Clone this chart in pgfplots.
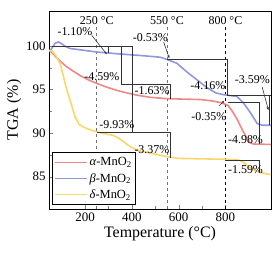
\documentclass[border=0pt]{standalone}
\usepackage{fontspec}
\setmainfont{Liberation Serif}
\usepackage{pgfplots}
\pgfplotsset{compat=1.18}
\usetikzlibrary{arrows.meta}
\definecolor{cred}{RGB}{240,135,135}
\definecolor{cblue}{RGB}{145,150,225}
\definecolor{cyel}{RGB}{250,215,105}
\tikzset{annot/.style={draw=black!80, line width=0.6pt},
  lbl/.style={font=\fontsize{12}{12}\selectfont, inner sep=0pt}}
\begin{document}
\begin{tikzpicture}
\begin{axis}[name=ax, width=222bp, height=198bp, scale only axis,
  xmin=46, xmax=995, ymin=81.3, ymax=104,
  xtick={200,400,600,800}, ytick={85,90,95,100},
  minor x tick num=1, minor y tick num=1,
  xtick pos=bottom, ytick pos=left,
  tick label style={font=\fontsize{13}{13}\selectfont},
  /pgf/number format/assume math mode=true,
  xlabel={Temperature (°C)}, ylabel={TGA (\%)},
  label style={font=\fontsize{16}{16}\selectfont},
  xlabel style={yshift=2bp}, ylabel style={yshift=-2bp},
  axis line style={line width=0.7pt},
  legend style={at={(0.012,0.02)}, anchor=south west, font=\fontsize{12.5}{12.5}\selectfont, draw=black, line width=0.7pt, row sep=0pt, inner sep=2pt, nodes={inner ysep=3pt}},
  legend cell align=left,
  legend image code/.code={\draw[#1] (0bp,0bp) -- (32bp,0bp);},
]
% dashed guide lines
\draw[dashed, black!55, line width=0.6pt] (axis cs:250,81.3) -- (axis cs:250,102.2);
\draw[dashed, black!55, line width=0.6pt] (axis cs:550,81.3) -- (axis cs:550,102.2);
\draw[dashed, black, line width=0.6pt] (axis cs:800,81.3) -- (axis cs:800,102.2);

\addplot[cred, line width=1.6pt] coordinates {
(47,99.5) (60,99.2) (80,98.6) (100,98.1) (122,97.6) (150,97.1) (179,96.6) (215,96.1) (250,95.7) (290,95.3) (336,94.9) (380,94.6) (422,94.35) (480,94.1) (550,93.95) (620,93.9) (693,93.85) (740,93.7) (780,93.5) (810,93.2) (830,92.5) (850,91.6) (870,90.5) (890,89.5) (905,88.9) (920,88.75) (995,88.7)};
\addlegendentry{\textit{α}-MnO\textsubscript{2}}
\addplot[cblue, line width=1.6pt] coordinates {
(47,99.3) (60,99.8) (72,100.3) (86,100.45) (100,100.25) (115,99.95) (136,99.7) (165,99.6) (193,99.5) (250,99.3) (336,99.1) (436,98.9) (522,98.7) (550,98.45) (593,98.0) (636,97.0) (679,96.1) (722,95.2) (760,94.6) (793,94.4) (850,94.2) (879,93.4) (908,92.3) (936,91.1) (958,90.9) (995,90.9)};
\addlegendentry{\textit{β}-MnO\textsubscript{2}}
\addplot[cyel, line width=1.6pt] coordinates {
(47,99.5) (60,99.4) (75,98.9) (93,98.0) (105,96.8) (115,95.7) (125,94.7) (136,93.8) (147,92.8) (157,91.9) (175,91.0) (193,90.7) (220,90.4) (250,90.15) (280,89.95) (320,89.75) (345,89.4) (365,89.0) (385,88.6) (407,88.25) (435,87.95) (465,87.8) (500,87.6) (550,87.3) (600,87.1) (700,87.05) (800,87.0) (860,86.9) (880,86.6) (900,86.1) (920,85.8) (945,85.55) (970,85.35) (995,85.25)};
\addlegendentry{\textit{δ}-MnO\textsubscript{2}}

% annotation boxes
\draw[annot] (axis cs:60,100) -- (axis cs:404,100);
\draw[annot] (axis cs:300,100) -- (axis cs:300,99.15);
\draw[annot] (axis cs:355,100) -- (axis cs:355,95.58) -- (axis cs:565,95.58) -- (axis cs:565,93.95);
\draw[annot] (axis cs:404,100) -- (axis cs:404,90.08);
\draw[annot] (axis cs:250,90.08) -- (axis cs:565,90.08) -- (axis cs:565,87.2);
\draw[annot] (axis cs:550,98.44) -- (axis cs:807,98.44) -- (axis cs:807,94.35);
\draw[annot] (axis cs:807,94.35) -- (axis cs:995,94.35);
\draw[annot] (axis cs:986,94.35) -- (axis cs:986,90.9);
\draw[annot] (axis cs:813,93.59) -- (axis cs:947,93.59) -- (axis cs:947,88.7);
\draw[annot] (axis cs:800,86.91) -- (axis cs:946,86.91) -- (axis cs:946,85.57);
% pointer arrows
\draw[annot, -{Stealth[length=3bp,width=2.5bp]}] (axis cs:229,101.2) -- (axis cs:293,99.05);
\draw[annot, -{Stealth[length=3bp,width=2.5bp]}] (axis cs:536,100.46) -- (axis cs:560,98.6);
\draw[annot, -{Stealth[length=3bp,width=2.5bp]}] (axis cs:957,95.3) -- (axis cs:984,92.64);
\draw[annot, -{Stealth[length=3bp,width=2.5bp]}] (axis cs:772,93.1) -- (axis cs:795,93.7);

% labels
\node[lbl] at (axis cs:250,102.95) {250 °C};
\node[lbl] at (axis cs:550,102.95) {550 °C};
\node[lbl] at (axis cs:800,102.95) {800 °C};
\node[lbl] at (axis cs:157,101.6) {-1.10\%};
\node[lbl] at (axis cs:479,101.0) {-0.53\%};
\node[lbl] at (axis cs:272,96.45) {-4.59\%};
\node[lbl] at (axis cs:487,94.93) {-1.63\%};
\node[lbl] at (axis cs:725,95.5) {-4.16\%};
\node[lbl] at (axis cs:915,96.15) {-3.59\%};
\node[lbl] at (axis cs:729,91.87) {-0.35\%};
\node[lbl] at (axis cs:886,89.3) {-4.98\%};
\node[lbl] at (axis cs:336,91.03) {-9.93\%};
\node[lbl] at (axis cs:486,88.06) {-3.37\%};
\node[lbl] at (axis cs:886,85.77) {-1.59\%};
\end{axis}
\path ([shift={(-49bp,-46bp)}]ax.south west) rectangle ([shift={(9bp,11bp)}]ax.north east);
\end{tikzpicture}
\end{document}
